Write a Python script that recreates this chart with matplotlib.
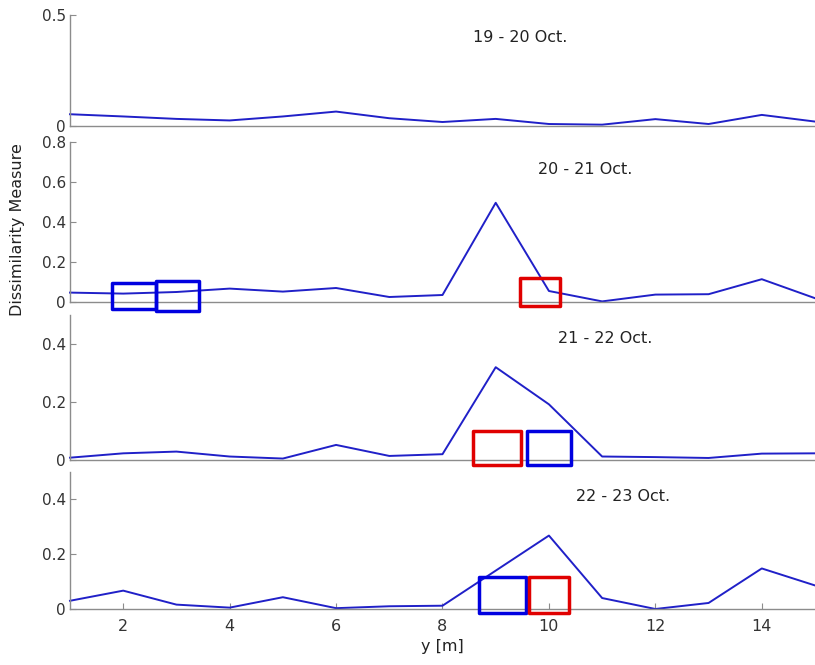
import numpy as np
import matplotlib.pyplot as plt
from matplotlib.patches import Rectangle

# positions along the profile
y_pos = np.arange(1, 16)

# dissimilarity values
diss_19_20 = [0.053, 0.043, 0.032, 0.025, 0.043, 0.065, 0.035, 0.018,
              0.032, 0.009, 0.006, 0.031, 0.009, 0.050, 0.020]
diss_20_21 = [0.047, 0.042, 0.050, 0.067, 0.052, 0.070, 0.025, 0.035,
              0.496, 0.055, 0.003, 0.037, 0.039, 0.114, 0.019]
diss_21_22 = [0.008, 0.023, 0.029, 0.012, 0.005, 0.052, 0.014, 0.020,
              0.320, 0.192, 0.012, 0.010, 0.007, 0.022, 0.023]
diss_22_23 = [0.030, 0.067, 0.016, 0.005, 0.043, 0.003, 0.010, 0.012,
              0.140, 0.268, 0.040, 0.000, 0.022, 0.148, 0.086]

series = [diss_19_20, diss_20_21, diss_21_22, diss_22_23]
labels = ["19 - 20 Oct.", "20 - 21 Oct.", "21 - 22 Oct.", "22 - 23 Oct."]
label_x = [8.58, 9.80, 10.17, 10.50]
label_y = [0.40, 0.66, 0.42, 0.41]
y_tops = [0.5, 0.8, 0.5, 0.5]
y_ticks = [[0, 0.5], [0, 0.2, 0.4, 0.6, 0.8], [0, 0.2, 0.4], [0, 0.2, 0.4]]

# marker boxes: panel index, x0, x1, y0, y1, colour
box_panel = [1, 1, 1, 2, 2, 3, 3]
box_x0 = [1.78, 2.62, 9.46, 8.58, 9.58, 8.69, 9.63]
box_x1 = [2.62, 3.42, 10.21, 9.47, 10.41, 9.57, 10.38]
box_y0 = [-0.035, -0.045, -0.020, -0.017, -0.017, -0.016, -0.016]
box_y1 = [0.097, 0.105, 0.120, 0.100, 0.100, 0.116, 0.116]
box_col = ["#0000e0", "#0000e0", "#e00000", "#e00000", "#0000e0", "#0000e0", "#e00000"]

W, H = 815, 665
# (top, bottom) of each panel in pixels
panel_px = [(15, 126), (142, 302), (315, 460), (472, 609)]

plt.rcParams['font.family'] = ['DejaVu Sans']
fig = plt.figure(figsize=(W / 100, H / 100), dpi=100)

axes = []
for i, (top, bot) in enumerate(panel_px):
    ax = fig.add_axes([70 / W, 1 - bot / H, 1 - 70 / W, (bot - top) / H])
    ax.plot(y_pos, series[i], color='#2020c8', linewidth=1.4, clip_on=False)
    ax.set_xlim(1, 15)
    ax.set_ylim(0, y_tops[i])
    ax.set_yticks(y_ticks[i])
    ax.set_yticklabels(["0" if t == 0 else f"{t:g}" for t in y_ticks[i]])
    ax.text(label_x[i], label_y[i], labels[i], fontsize=11.5, color='#222222',
            ha='left', va='center')
    ax.patch.set_alpha(0)
    for s in ['top', 'right']:
        ax.spines[s].set_visible(False)
    for s in ['left', 'bottom']:
        ax.spines[s].set_color('#8c8c8c')
        ax.spines[s].set_linewidth(1.0)
    ax.tick_params(axis='y', direction='in', length=4, color='#8c8c8c',
                   labelsize=11, labelcolor='#333333', pad=3)
    if i < 3:
        ax.tick_params(axis='x', length=0, labelbottom=False)
    else:
        ax.set_xticks([2, 4, 6, 8, 10, 12, 14])
        ax.tick_params(axis='x', direction='in', length=4, color='#8c8c8c',
                       labelsize=11.5, labelcolor='#333333', pad=7)
        ax.set_xlabel("y [m]", fontsize=11.5, color='#222222', labelpad=4)
    axes.append(ax)

for k in range(len(box_panel)):
    ax = axes[box_panel[k]]
    rect = Rectangle((box_x0[k], box_y0[k]), box_x1[k] - box_x0[k],
                     box_y1[k] - box_y0[k], fill=False, edgecolor=box_col[k],
                     linewidth=2.5, joinstyle='round', clip_on=False, zorder=5)
    ax.add_patch(rect)

fig.text(18 / W, 1 - 230 / H, "Dissimilarity Measure", rotation=90,
         ha='center', va='center', fontsize=11.5, color='#222222')

fig.savefig("out.png", dpi=100)
